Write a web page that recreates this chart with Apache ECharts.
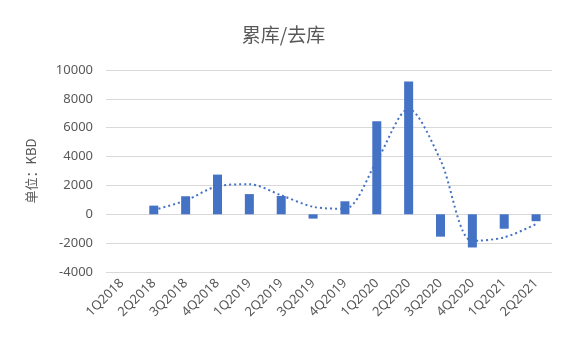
<!DOCTYPE html>
<html>
<head>
<meta charset="utf-8">
<script src="https://cdn.jsdelivr.net/npm/echarts@6/dist/echarts.min.js"></script>
<style>
html, body { margin: 0; padding: 0; background: #fff; }
#chart { width: 567px; height: 342px; }
</style>
</head>
<body>
<div id="chart"></div>
<script>
const quarters = ['1Q2018', '2Q2018', '3Q2018', '4Q2018', '1Q2019', '2Q2019', '3Q2019',
                  '4Q2019', '1Q2020', '2Q2020', '3Q2020', '4Q2020', '1Q2021', '2Q2021']
const stockChange = [0, 600, 1250, 2750, 1400, 1270, -300, 900, 6450, 9200, -1550, -2300, -1000, -480]
const trendLine = [null, 300, 950, 1950, 2080, 1320, 520, 380, 3700, 7300, 3750, -1850, -1600, -680]

const chart = echarts.init(document.getElementById('chart'))
const option = {
    backgroundColor: '#fff',
    title: {
        text: '累库/去库',
        left: 'center',
        top: 20,
        textStyle: { fontSize: 19, fontWeight: 'normal', color: '#595959', fontFamily: 'Noto Sans CJK SC' }
    },
    grid: { left: 106, right: 15, top: 70, bottom: 70 },
    xAxis: {
        type: 'category',
        data: quarters,
        axisLine: { show: false },
        axisTick: { show: false },
        axisLabel: { rotate: 45, color: '#595959', fontSize: 13, fontFamily: 'Noto Sans', interval: 0, margin: 9 }
    },
    yAxis: {
        type: 'value',
        min: -4000,
        max: 10000,
        interval: 2000,
        name: '单位：KBD',
        nameLocation: 'middle',
        nameGap: 68,
        nameTextStyle: { color: '#595959', fontSize: 13, fontFamily: 'Noto Sans CJK SC' },
        axisLabel: { color: '#595959', fontSize: 13, fontFamily: 'Noto Sans', margin: 13, formatter: v => String(v) },
        splitLine: { lineStyle: { color: '#d9d9d9', width: 1 } }
    },
    series: [
        {
            name: '累库/去库',
            type: 'bar',
            barWidth: 9,
            itemStyle: { color: '#4472C4' },
            data: stockChange
        },
        {
            name: '移动平均',
            type: 'line',
            smooth: 0.3,
            symbol: 'none',
            lineStyle: { color: '#4472C4', width: 2, type: [2, 3] },
            data: trendLine
        }
    ]
}
chart.setOption(option)
</script>
</body>
</html>
